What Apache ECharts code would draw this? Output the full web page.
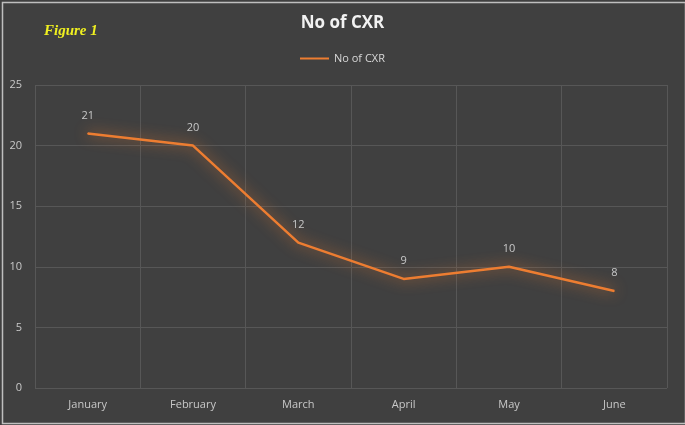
<!DOCTYPE html>
<html>
<head>
<meta charset="utf-8">
<script src="https://cdn.jsdelivr.net/npm/echarts@6/dist/echarts.min.js"></script>
<style>
html,body{margin:0;padding:0;background:#404040;}
#c{width:685px;height:425px;}
</style>
</head>
<body>
<div id="c"></div>
<script>
const categories = ['January','February','March','April','May','June'];
const cxrValues = [21, 20, 12, 9, 10, 8];
const yTicks = [0, 5, 10, 15, 20, 25];

const chart = echarts.init(document.getElementById('c'));
chart.setOption({
  backgroundColor: '#404040',
  animation: false,
  textStyle: { fontFamily: 'Open Sans' },
  title: {
    text: 'No of CXR',
    left: 'center',
    top: 10,
    textStyle: { color: '#f2f2f2', fontSize: 17, fontWeight: 'bold', fontFamily: 'Open Sans' }
  },
  legend: {
    top: 48,
    left: 'center',
    itemWidth: 29,
    itemHeight: 2,
    icon: 'rect',
    itemStyle: { color: '#ED7D31' },
    textStyle: { color: '#d9d9d9', fontSize: 11 },
    data: ['No of CXR']
  },
  graphic: [
    {
      type: 'text', left: 44, top: 24,
      style: { text: 'Figure 1', fill: '#f0f020', font: 'italic bold 15px "Liberation Serif", "DejaVu Serif", serif' }
    },
    {
      type: 'rect', left: 0, top: 0,
      shape: { x: 0.5, y: 0.5, width: 683, height: 421 },
      style: { fill: 'none', stroke: '#bfbfbf', lineWidth: 1.5 }
    }
  ],
  grid: { left: 35, right: 18, top: 85, bottom: 37 },
  xAxis: {
    type: 'category',
    data: categories,
    boundaryGap: true,
    axisLine: { show: false },
    axisTick: { show: false },
    axisLabel: { color: '#c8c8c8', fontSize: 11, margin: 11 },
    splitLine: { show: true, lineStyle: { color: '#575757', width: 1 } }
  },
  yAxis: {
    type: 'value',
    min: 0, max: 25, interval: 5,
    axisLine: { show: false },
    axisTick: { show: false },
    axisLabel: { color: '#c8c8c8', fontSize: 11, margin: 13,
      formatter: v => yTicks.includes(v) ? String(v) : '' },
    splitLine: { lineStyle: { color: '#575757', width: 1 } }
  },
  series: [{
    name: 'No of CXR',
    type: 'line',
    data: cxrValues,
    symbol: 'circle',
    symbolSize: 1,
    showSymbol: true,
    lineStyle: { color: '#ED7D31', width: 2.5, shadowColor: 'rgba(237,125,49,0.9)', shadowBlur: 14 },
    itemStyle: { color: '#ED7D31' },
    label: { show: true, position: 'top', distance: 12, color: '#c8c8c8', fontSize: 11 }
  }]
});
</script>
</body>
</html>
